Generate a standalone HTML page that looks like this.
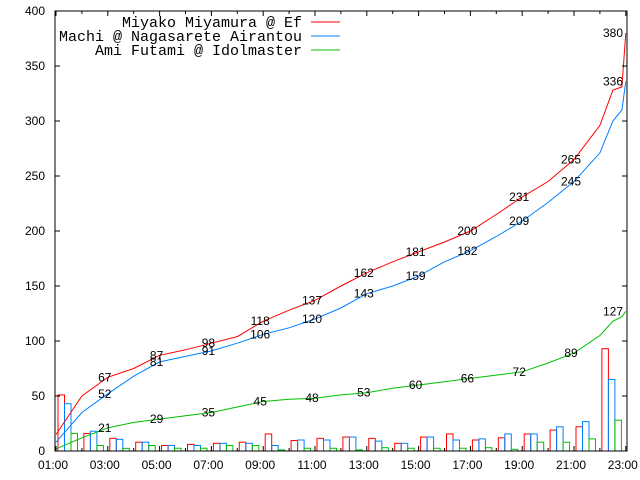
<!DOCTYPE html>
<html><head><meta charset="utf-8"><style>
html,body{margin:0;padding:0;background:#fff;}
svg{display:block;}
text{font-family:"Liberation Sans",sans-serif;}
</style></head><body>
<svg id="chart" width="640" height="480" xmlns="http://www.w3.org/2000/svg"></svg>
<script>
// data
const hours = [1,2,3,4,5,6,7,8,9,10,11,12,13,14,15,16,17,18,19,20,21,22,22.5,22.85,23];
const redCum   = [15,50,67,75,87,92,98,104,118,128,137,150,162,172,181,190,200,215,231,245,265,296,328,331,380];
const blueCum  = [8,35,52,68,81,86,91,98,106,112,120,130,143,150,159,172,182,195,209,226,245,271,300,310,336];
const greenCum = [2,12,21,26,29,32,35,40,45,47,48,51,53,57,60,63,66,69,72,80,89,105,118,122,127];
const labelHours = [3,5,7,9,11,13,15,17,19,21,23];
const redLabels   = [67,87,98,118,137,162,181,200,231,265,380];
const blueLabels  = [52,81,91,106,120,143,159,182,209,245,336];
const greenLabels = [21,29,35,45,48,53,60,66,72,89,127];
const barHours = [1,2,3,4,5,6,7,8,9,10,11,12,13,14,15,16,17,18,19,20,21,22];
const redBars   = [51,16,11.5,8,5,6,7,8,15.5,9.5,11.5,12.7,11.5,7,12.7,15.5,10,12,15.5,19,22,93];
const blueBars  = [43,18,10.6,8,5,5,7,7,5,10,10,12.7,9,7,12.7,10,11,15.5,15.5,22,26.7,65];
const greenBars = [16,5,2.4,5,2.5,2.5,5,5,1,2.5,2.5,1,3,2.5,2.5,2.5,3,1.5,8,8,11,28];
const yTicks = [0,50,100,150,200,250,300,350,400];
const xTickLabels = ["01:00","03:00","05:00","07:00","09:00","11:00","13:00","15:00","17:00","19:00","21:00","23:00"];
const seriesNames = ["Miyako Miyamura @ Ef","Machi @ Nagasarete Airantou","Ami Futami @ Idolmaster"];

const L=55,R=627,T=11,B=451;
const X=h=>56+(h-1)*25.9;
const Y=v=>B-(v/400)*(B-T);
const svg=document.getElementById('chart');
const NS="http://www.w3.org/2000/svg";
function mk(tag,attrs,parent){const e=document.createElementNS(NS,tag);for(const k in attrs)e.setAttribute(k,attrs[k]);(parent||svg).appendChild(e);return e;}

const colors=["#ff0000","#0080ff","#00c000"];

// bars
const barSets=[redBars,blueBars,greenBars];
barSets.forEach((arr,s)=>{
  arr.forEach((v,i)=>{
    const x0=X(barHours[i])+2+s*6.5;
    const r=mk('rect',{x:x0,y:Y(v),width:6.5,height:B-Y(v),fill:'none',stroke:colors[s],'stroke-width':1});
    
    
  });
});

// lines
const cums=[redCum,blueCum,greenCum];
cums.forEach((arr,s)=>{
  const pts=arr.map((v,i)=>X(hours[i]).toFixed(1)+','+Y(v).toFixed(1)).join(' ');
  const p=mk('polyline',{points:pts,fill:'none',stroke:colors[s],'stroke-width':1});
  
  
});

// value labels
const labs=[redLabels,blueLabels,greenLabels];
labs.forEach((arr,s)=>{
  arr.forEach((v,i)=>{
    let x=X(labelHours[i])-3; if(labelHours[i]===23)x=613;
    const t=mk('text',{x:x,y:Y(v)+4,'font-size':12,'text-anchor':'middle',fill:'#000'});
    t.textContent=v;
    
    
  });
});

// frame
const f=mk('rect',{x:L,y:T,width:R-L,height:B-T,fill:'none',stroke:'#000','stroke-width':1});



// y ticks
yTicks.forEach(v=>{
  mk('line',{x1:L,x2:L+5,y1:Y(v),y2:Y(v),stroke:'#000'});
  mk('line',{x1:R,x2:R-5,y1:Y(v),y2:Y(v),stroke:'#000'});
  const t=mk('text',{x:45,y:Y(v)+4,'font-size':12,'text-anchor':'end'});
  t.textContent=v;
  
  
});
// x ticks
for(let h=1;h<=23;h++){
  const len=(h%2===1)?5:3;
  mk('line',{x1:X(h),x2:X(h),y1:B,y2:B-len,stroke:'#000'});
  mk('line',{x1:X(h),x2:X(h),y1:T,y2:T+len,stroke:'#000'});
}
xTickLabels.forEach((s,i)=>{
  const t=mk('text',{x:X(1+2*i)-3,y:469,'font-size':12,'text-anchor':'middle'});
  t.textContent=s;
  
  
});

// legend
seriesNames.forEach((n,s)=>{
  const y=22+s*14;
  const t=mk('text',{x:302,y:y+5,'font-size':15,'text-anchor':'end',style:'font-family:"Liberation Mono",monospace'});
  t.textContent=n;
  
  
  const l=mk('line',{x1:311,x2:340,y1:y,y2:y,stroke:colors[s],'stroke-width':1});
  
  
});
</script>
</body></html>
